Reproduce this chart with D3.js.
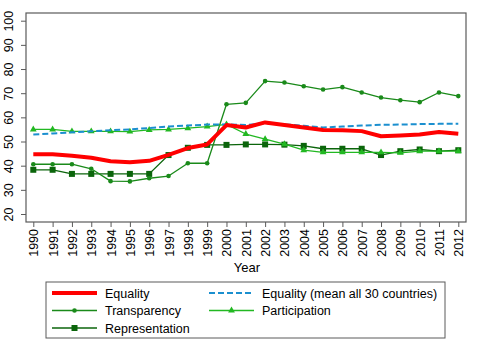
<!DOCTYPE html>
<html>
<head>
<meta charset="utf-8">
<script src="https://cdn.jsdelivr.net/npm/d3@7"></script>
<style>
  body { margin: 0; background: #fff; }
  svg { font-family: "Liberation Sans", Arial, sans-serif; }
</style>
</head>
<body>
<div id="chart"></div>
<script>
const years = d3.range(1990, 2013);
const yTicks = [20, 30, 40, 50, 60, 70, 80, 90, 100];

const equality = [44.7, 44.7, 44.1, 43.3, 41.8, 41.4, 42.0, 44.5, 47.3, 48.8, 56.8, 55.8, 57.9,
                  56.8, 55.8, 54.8, 54.7, 54.3, 52.2, 52.5, 52.9, 53.9, 53.2];
const equalityMean = [52.9, 53.3, 53.8, 54.2, 54.7, 55.0, 55.6, 56.2, 56.6, 57.0, 57.1, 56.8, 57.6,
                      57.1, 56.5, 55.8, 56.2, 56.6, 56.9, 57.0, 57.2, 57.3, 57.3];
const transparency = [40.6, 40.6, 40.6, 38.7, 33.6, 33.5, 34.8, 35.7, 41.0, 41.0, 65.4, 66.0, 75.0,
                      74.4, 72.9, 71.5, 72.5, 70.3, 68.2, 67.1, 66.3, 70.3, 68.8];
const participation = [55.0, 55.0, 54.2, 54.2, 54.2, 54.1, 54.8, 55.0, 55.5, 56.2, 57.1, 53.1, 51.0,
                       48.9, 46.4, 45.5, 45.5, 45.5, 45.5, 45.3, 46.0, 46.0, 46.0];
const representation = [38.3, 38.3, 36.6, 36.6, 36.6, 36.6, 36.6, 44.4, 47.4, 48.6, 48.6, 48.8, 48.8,
                         48.7, 48.2, 47.0, 47.0, 47.0, 44.4, 46.0, 46.7, 46.0, 46.4];

const series = [
  { name: "Representation", values: representation, color: "#0b650b", width: 1.3, marker: "square" },
  { name: "Transparency", values: transparency, color: "#1a8a1a", width: 1.3, marker: "circle" },
  { name: "Participation", values: participation, color: "#22b822", width: 1.3, marker: "triangle" },
  { name: "Equality (mean all 30 countries)", values: equalityMean, color: "#1b8fcf", width: 2, dash: "6,3" },
  { name: "Equality", values: equality, color: "#ff0000", width: 4 }
];

const width = 484, height = 362;
const plot = { left: 26, right: 466, top: 13, bottom: 222 };

const svg = d3.select("#chart").append("svg")
    .attr("width", width)
    .attr("height", height);

const x = d3.scaleLinear().domain([1990, 2012]).range([33.3, 458.3]);
const y = d3.scaleLinear().domain([20, 100]).range([214, 20.7]);

// plot frame
svg.append("rect")
    .attr("x", plot.left).attr("y", plot.top)
    .attr("width", plot.right - plot.left)
    .attr("height", plot.bottom - plot.top)
    .attr("fill", "none")
    .attr("stroke", "#5a5a5a")
    .attr("stroke-width", 1.2);

// y axis
const yAxis = svg.append("g")
    .attr("transform", `translate(${plot.left},0)`)
    .call(d3.axisLeft(y).tickValues(yTicks).tickSize(5).tickSizeOuter(0).tickFormat(d3.format("d")));
yAxis.select(".domain").remove();
yAxis.selectAll(".tick line").attr("stroke", "#5a5a5a");
yAxis.selectAll(".tick text")
    .attr("x", 0).attr("dy", 0)
    .attr("transform", "translate(-13,0) rotate(-90)")
    .attr("text-anchor", "middle")
    .attr("font-size", 12.5)
    .attr("fill", "#000");

// x axis
const xAxis = svg.append("g")
    .attr("transform", `translate(0,${plot.bottom})`)
    .call(d3.axisBottom(x).tickValues(years).tickSize(5).tickSizeOuter(0).tickFormat(d3.format("d")));
xAxis.select(".domain").remove();
xAxis.selectAll(".tick line").attr("stroke", "#5a5a5a");
xAxis.selectAll(".tick text")
    .attr("x", 0).attr("y", 0).attr("dy", 0)
    .attr("transform", "translate(4.5,7) rotate(-90)")
    .attr("text-anchor", "end")
    .attr("font-size", 12.5)
    .attr("fill", "#000");

svg.append("text")
    .attr("x", 247).attr("y", 272)
    .attr("text-anchor", "middle")
    .attr("font-size", 13)
    .text("Year");

const line = d3.line()
    .x((d, i) => x(years[i]))
    .y(d => y(d));

function drawMarker(g, type, cx, cy, color) {
  if (type === "circle") {
    g.append("circle").attr("cx", cx).attr("cy", cy).attr("r", 2.3).attr("fill", color);
  } else if (type === "square") {
    g.append("rect").attr("x", cx - 3).attr("y", cy - 3).attr("width", 6).attr("height", 6).attr("fill", color);
  } else if (type === "triangle") {
    g.append("path")
        .attr("d", d3.symbol().type(d3.symbolTriangle).size(20)())
        .attr("transform", `translate(${cx},${cy})`)
        .attr("fill", color);
  }
}

series.forEach(s => {
  const g = svg.append("g");
  g.append("path")
      .datum(s.values)
      .attr("d", line)
      .attr("fill", "none")
      .attr("stroke", s.color)
      .attr("stroke-width", s.width)
      .attr("stroke-dasharray", s.dash || null)
      .attr("stroke-linejoin", "round");
  if (s.marker) {
    s.values.forEach((v, i) => drawMarker(g, s.marker, x(years[i]), y(v), s.color));
  }
});

// legend
const legend = svg.append("g");
legend.append("rect")
    .attr("x", 46).attr("y", 282)
    .attr("width", 399).attr("height", 56)
    .attr("fill", "#fff")
    .attr("stroke", "#5a5a5a")
    .attr("stroke-width", 1);

const legendOrder = ["Equality", "Equality (mean all 30 countries)", "Transparency", "Participation", "Representation"];
legendOrder.forEach((name, i) => {
  const s = series.find(d => d.name === name);
  const col = i % 2, row = Math.floor(i / 2);
  const lx = col === 0 ? 52 : 209;
  const ly = 293 + row * 17.5;
  legend.append("line")
      .attr("x1", lx).attr("x2", lx + 45)
      .attr("y1", ly).attr("y2", ly)
      .attr("stroke", s.color)
      .attr("stroke-width", s.width)
      .attr("stroke-dasharray", s.dash || null);
  if (s.marker) drawMarker(legend, s.marker, lx + 22.5, ly, s.color);
  legend.append("text")
      .attr("x", lx + 53).attr("y", ly + 4.5)
      .attr("font-size", 12.5)
      .text(name);
});
</script>
</body>
</html>
